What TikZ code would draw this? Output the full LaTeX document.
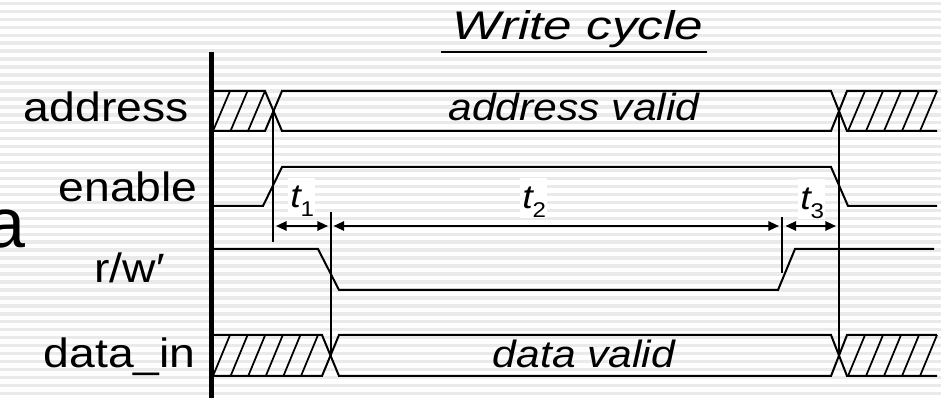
\documentclass[tikz,border=0pt]{standalone}
\usepackage{fontspec}
\setmainfont{Liberation Sans}
\newfontfamily\sigfont[FakeStretch=1.13]{Liberation Sans}
\newfontfamily\valfont[FakeStretch=1.12]{Liberation Sans}
\newfontfamily\titlefont[FakeStretch=1.28]{Liberation Sans}
\usetikzlibrary{arrows.meta}
\definecolor{stripe}{RGB}{234,234,234}

\begin{document}
\begin{tikzpicture}[x=0.75pt,y=-0.75pt,
  sig/.style={line width=1.5pt, line join=miter},
  hatch/.style={line width=1.3pt},
  marker/.style={line width=1.5pt},
  dim/.style={line width=1.5pt, {Triangle[length=8pt,width=7pt]}-{Triangle[length=8pt,width=7pt]}},
  siglabel/.style={anchor=base east, inner sep=0pt, font=\sigfont\fontsize{30.75pt}{36pt}\selectfont},
  vallabel/.style={anchor=base, inner sep=0pt, font=\valfont\itshape\fontsize{28.5pt}{34pt}\selectfont},
  tbox/.style={fill=white, draw=none, minimum width=20.25pt, minimum height=29.5pt, inner sep=0pt},
  tlabel/.style={anchor=base west, inner sep=0pt, font=\sigfont\fontsize{25pt}{30pt}\selectfont}
]
\useasboundingbox (0,0) rectangle (941,398);
\clip (0,0) rectangle (941,398);

% striped slide background
\fill[white] (0,0) rectangle (941,398);
\foreach \k in {0,...,50}
  \fill[stripe] (0,{1.7+7.96*\k}) rectangle (941,{5.1+7.96*\k});

% left-over letter of the slide text
\node[anchor=base east, inner sep=0pt, font=\fontsize{52.5pt}{60pt}\selectfont] (leftover) at (26,248) {a};

% title
\node[anchor=base, inner sep=0pt, font=\titlefont\itshape\fontsize{30pt}{36pt}\selectfont] (title) at (578,40) {Write cycle};
\draw[line width=1.5pt] (441,52) -- (707,52);

% signal names
\node[siglabel] (laddr) at (189,121.7) {address};
\node[siglabel] (len)   at (198,201.7) {enable};
\node[siglabel] (lrw)   at (165,283)   {r/w′};
\node[siglabel] (ldata) at (196,368)   {data\_in};

% address bus
\draw[sig] (211,91) -- (265,91) -- (282,131) -- (831,131) -- (847,91) -- (937,91);
\draw[sig] (211,131) -- (265,131) -- (282,91) -- (831,91) -- (847,131) -- (937,131);
\foreach \x in {213,230.5,248}
  \draw[hatch] (\x,131) -- ++(17,-40);
\foreach \x in {848,866,884,902,920}
  \draw[hatch] (\x,131) -- ++(17,-40);
\node[vallabel] (aval) at (574,120.7) {address valid};

% enable
\draw[sig] (211,206) -- (263,206) -- (282,167) -- (831,167) -- (848,206) -- (937,206);

% read/write
\draw[sig] (211,249) -- (318,249) -- (339,290) -- (778,290) -- (795,249) -- (934,249);

% data bus
\draw[sig] (211,335) -- (322,335) -- (339,376) -- (831,376) -- (847,335) -- (937,335);
\draw[sig] (211,376) -- (322,376) -- (339,335) -- (831,335) -- (847,376) -- (937,376);
\foreach \x in {213,230.6,248.2,265.8,283.4,301}
  \draw[hatch] (\x,376) -- ++(17,-41);
\foreach \x in {848,866,884,902,920}
  \draw[hatch] (\x,376) -- ++(17,-41);
\node[vallabel] (dval) at (584,368) {data valid};

% timing markers
\coordinate (m1top) at (273,111);   \coordinate (m1bot) at (273,242);
\coordinate (m2top) at (330.5,212); \coordinate (m2bot) at (330.5,357);
\coordinate (m3top) at (782,217);   \coordinate (m3bot) at (782,273);
\coordinate (m4top) at (839,111);   \coordinate (m4bot) at (839,357);
\draw[marker] (m1top) -- (m1bot);
\draw[marker] (m2top) -- (m2bot);
\draw[marker] (m3top) -- (m3bot);
\draw[marker] (m4top) -- (m4bot);

% interval arrows
\coordinate (d1a) at (276,226); \coordinate (d1b) at (328,226);
\coordinate (d2a) at (333.5,226); \coordinate (d2b) at (779,226);
\coordinate (d3a) at (785.5,226); \coordinate (d3b) at (836,226);
\draw[dim] (d1a) -- (d1b);
\draw[dim] (d2a) -- (d2b);
\draw[dim] (d3a) -- (d3b);

% interval names
\node[tbox] (t1box) at (301.5,197.5) {};
\node[tbox] (t2box) at (533.5,198) {};
\node[tbox] (t3box) at (811.5,199) {};
\node[tlabel] (t1) at (290,208) {\itshape t\raisebox{-6.5pt}{\fontsize{16pt}{18pt}\selectfont\upshape 1}};
\node[tlabel] (t2) at (522,209) {\itshape t\raisebox{-6.5pt}{\fontsize{16pt}{18pt}\selectfont\upshape 2}};
\node[tlabel] (t3) at (800,210) {\itshape t\raisebox{-6.5pt}{\fontsize{16pt}{18pt}\selectfont\upshape 3}};

% time axis
\draw[line width=3.3pt] (211.5,52) -- (211.5,398);
\end{tikzpicture}
\end{document}
